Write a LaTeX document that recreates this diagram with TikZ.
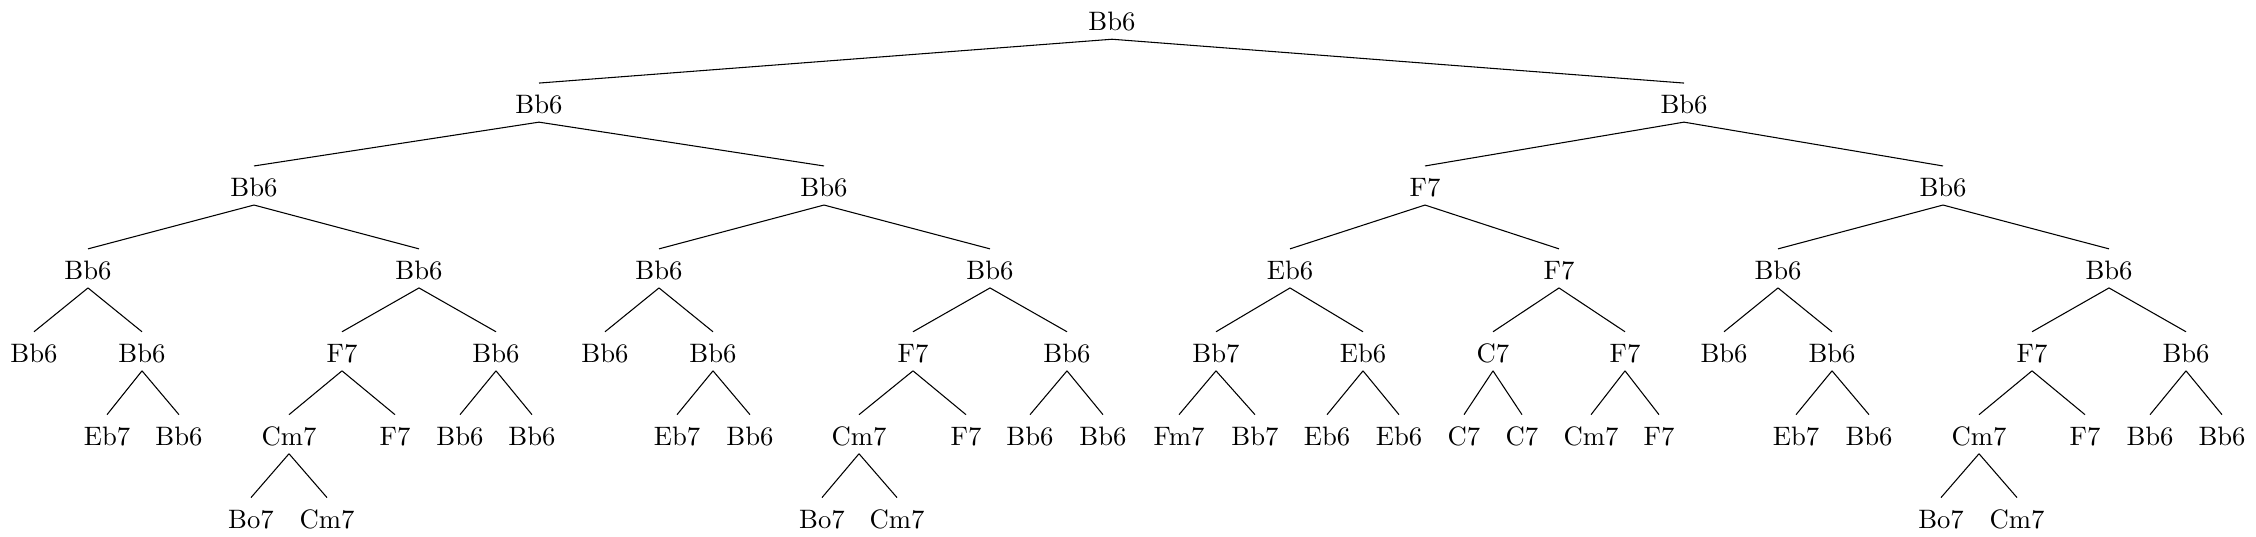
\documentclass[tikz,border=0pt]{standalone}
\usetikzlibrary{positioning}

\begin{document}
\begin{tikzpicture}[x=0.375pt, y=-0.375pt]
                \tikzset{chord/.style={anchor=base, inner sep=3pt, text height=8.25pt, text depth=0pt}}
                \useasboundingbox (0,0) rectangle (2256,536);

                % ROOT
                \node[chord] (r) at (1112,30.7) {Bb6};

                % LEVEL 1
                \node[chord] (r0) at (539,113.6) {Bb6};
                \node[chord] (r1) at (1684,113.6) {Bb6};

                % LEVEL 2
                \node[chord] (r00) at (254,196.5) {Bb6};
                \node[chord] (r01) at (824,196.5) {Bb6};
                \node[chord] (r10) at (1425,196.5) {F7};
                \node[chord] (r11) at (1943,196.5) {Bb6};

                % LEVEL 3
                \node[chord] (r000) at (88,279.4) {Bb6};
                \node[chord] (r001) at (419,279.4) {Bb6};
                \node[chord] (r010) at (659,279.4) {Bb6};
                \node[chord] (r011) at (990,279.4) {Bb6};
                \node[chord] (r100) at (1290,279.4) {Eb6};
                \node[chord] (r101) at (1559,279.4) {F7};
                \node[chord] (r110) at (1778,279.4) {Bb6};
                \node[chord] (r111) at (2109,279.4) {Bb6};

                % LEVEL 4
                \node[chord] (r0000) at (34,362.3) {Bb6};
                \node[chord] (r0001) at (142,362.3) {Bb6};
                \node[chord] (r0010) at (342,362.3) {F7};
                \node[chord] (r0011) at (496,362.3) {Bb6};
                \node[chord] (r0100) at (605,362.3) {Bb6};
                \node[chord] (r0101) at (713,362.3) {Bb6};
                \node[chord] (r0110) at (913,362.3) {F7};
                \node[chord] (r0111) at (1067,362.3) {Bb6};
                \node[chord] (r1000) at (1216,362.3) {Bb7};
                \node[chord] (r1001) at (1363,362.3) {Eb6};
                \node[chord] (r1010) at (1493,362.3) {C7};
                \node[chord] (r1011) at (1625,362.3) {F7};
                \node[chord] (r1100) at (1724,362.3) {Bb6};
                \node[chord] (r1101) at (1832,362.3) {Bb6};
                \node[chord] (r1110) at (2032,362.3) {F7};
                \node[chord] (r1111) at (2186,362.3) {Bb6};

                % LEVEL 5
                \node[chord] (r00010) at (107,445.2) {Eb7};
                \node[chord] (r00011) at (179,445.2) {Bb6};
                \node[chord] (r00100) at (289,445.2) {Cm7};
                \node[chord] (r00101) at (395,445.2) {F7};
                \node[chord] (r00110) at (460,445.2) {Bb6};
                \node[chord] (r00111) at (532,445.2) {Bb6};
                \node[chord] (r01010) at (677,445.2) {Eb7};
                \node[chord] (r01011) at (750,445.2) {Bb6};
                \node[chord] (r01100) at (859,445.2) {Cm7};
                \node[chord] (r01101) at (966,445.2) {F7};
                \node[chord] (r01110) at (1030,445.2) {Bb6};
                \node[chord] (r01111) at (1103,445.2) {Bb6};
                \node[chord] (r10000) at (1179,445.2) {Fm7};
                \node[chord] (r10001) at (1255,445.2) {Bb7};
                \node[chord] (r10010) at (1327,445.2) {Eb6};
                \node[chord] (r10011) at (1399,445.2) {Eb6};
                \node[chord] (r10100) at (1464,445.2) {C7};
                \node[chord] (r10101) at (1522,445.2) {C7};
                \node[chord] (r10110) at (1591,445.2) {Cm7};
                \node[chord] (r10111) at (1659,445.2) {F7};
                \node[chord] (r11010) at (1796,445.2) {Eb7};
                \node[chord] (r11011) at (1869,445.2) {Bb6};
                \node[chord] (r11100) at (1979,445.2) {Cm7};
                \node[chord] (r11101) at (2085,445.2) {F7};
                \node[chord] (r11110) at (2150,445.2) {Bb6};
                \node[chord] (r11111) at (2222,445.2) {Bb6};

                % LEVEL 6
                \node[chord] (r001000) at (251,528.1) {Bo7};
                \node[chord] (r001001) at (327,528.1) {Cm7};
                \node[chord] (r011000) at (822,528.1) {Bo7};
                \node[chord] (r011001) at (897,528.1) {Cm7};
                \node[chord] (r111000) at (1941,528.1) {Bo7};
                \node[chord] (r111001) at (2017,528.1) {Cm7};

                % BRANCHES
                \foreach \p/\c in {r/r0, r/r1,
                    r0/r00, r0/r01, r1/r10, r1/r11,
                    r00/r000, r00/r001, r01/r010, r01/r011, r10/r100, r10/r101, r11/r110, r11/r111,
                    r000/r0000, r000/r0001, r001/r0010, r001/r0011, r010/r0100, r010/r0101, r011/r0110, r011/r0111,
                    r100/r1000, r100/r1001, r101/r1010, r101/r1011, r110/r1100, r110/r1101, r111/r1110, r111/r1111,
                    r0001/r00010, r0001/r00011, r0010/r00100, r0010/r00101, r0011/r00110, r0011/r00111,
                    r0101/r01010, r0101/r01011, r0110/r01100, r0110/r01101, r0111/r01110, r0111/r01111,
                    r1000/r10000, r1000/r10001, r1001/r10010, r1001/r10011, r1010/r10100, r1010/r10101,
                    r1011/r10110, r1011/r10111, r1101/r11010, r1101/r11011, r1110/r11100, r1110/r11101,
                    r1111/r11110, r1111/r11111,
                    r00100/r001000, r00100/r001001, r01100/r011000, r01100/r011001, r11100/r111000, r11100/r111001}
                    \draw (\p.south) -- (\c.north);

            \end{tikzpicture}
\end{document}
